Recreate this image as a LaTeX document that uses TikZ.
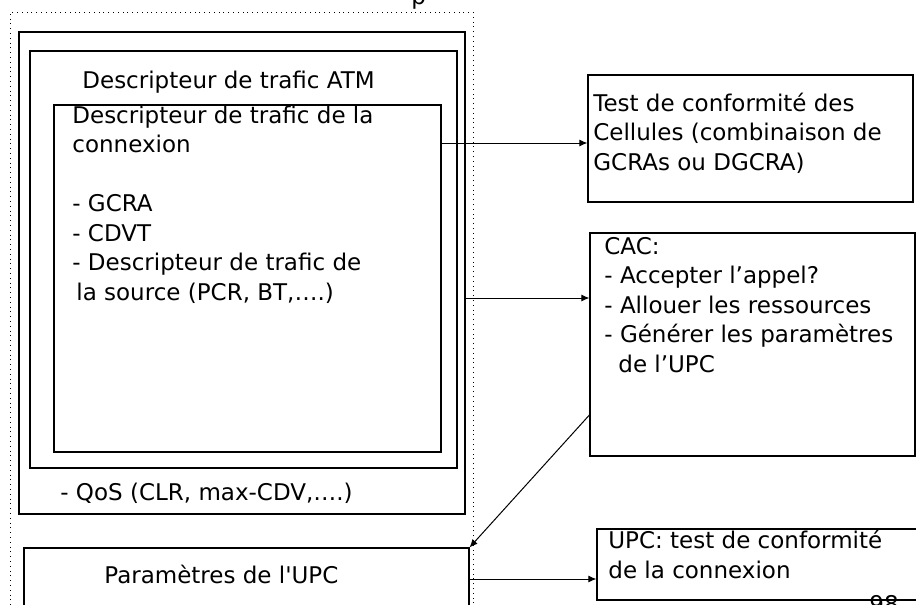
\documentclass[tikz,border=0pt]{standalone}
\usepackage{fontspec}
\setmainfont{DejaVu Sans}
\usetikzlibrary{arrows.meta,positioning}

\begin{document}
\begin{tikzpicture}[x=0.5pt,y=-0.5pt,
  box/.style={draw,line width=0.6pt,inner sep=0},
  txt/.style={anchor=base west,inner sep=0,align=left,font=\fontsize{11.5}{14.75}\selectfont},
  arr/.style={-{Latex[length=4pt,width=3.5pt]},line width=0.5pt}]
\useasboundingbox (0,0) rectangle (916,605);
% left column
\node[draw,dotted,line width=0.4pt,inner sep=0,minimum width=231.5pt,minimum height=306.5pt] (dot) at (241.5,318.5) {};
\node[box,minimum width=223pt,minimum height=241pt] (qos) at (242,273) {};
\node[box,minimum width=213.5pt,minimum height=208.5pt] (atm) at (243.5,259.5) {};
\node[box,minimum width=193.5pt,minimum height=173.5pt] (conn) at (247.5,278.5) {};
\node[box,minimum width=222.5pt,minimum height=38.5pt] (par) at (246.5,586.5) {};
% right column
\node[box,minimum width=162.5pt,minimum height=63.5pt] (test) at (750.5,138.5) {};
\node[box,minimum width=162.5pt,minimum height=111.5pt] (cac) at (752.5,344.5) {};
\node[box,minimum width=164pt,minimum height=35.5pt] (upc) at (761,564.5) {};
% texts (base = last line)
\node[txt] (tp) at (411,4) {p};
\node[txt] (tatm) at (82,88) {Descripteur de trafic ATM};
\node[txt] (tconn) at (72,300) {Descripteur de trafic de la\\connexion\\[14.75pt]- GCRA\\- CDVT\\- Descripteur de trafic de\\\hspace{2pt}la source (PCR, BT,….)};
\node[txt] (tqos) at (60,500) {- QoS (CLR, max-CDV,….)};
\node[txt] (tpar) at (104,583) {Paramètres de l\textquotesingle UPC};
\node[txt] (ttest) at (593,170) {Test de conformité des\\Cellules (combinaison de\\GCRAs ou DGCRA)};
\node[txt] (tcac) at (604,372) {CAC:\\- Accepter l’appel?\\- Allouer les ressources\\- Générer les paramètres\\\hspace{7pt}de l’UPC};
\node[txt] (tupc) at (608,578) {UPC: test de conformité\\de la connexion};
\node[txt] (tnum) at (869,612) {98};
% connectors
\draw[arr] (conn.east |- 0,143) -- (test.west |- 0,143);
\draw[arr] (qos.east |- 0,298) -- (cac.west |- 0,298);
\draw[arr] (cac.west |- 0,415) -- (par.north east);
\draw[arr] (par.east |- 0,579) -- (upc.west |- 0,579);
\end{tikzpicture}
\end{document}
